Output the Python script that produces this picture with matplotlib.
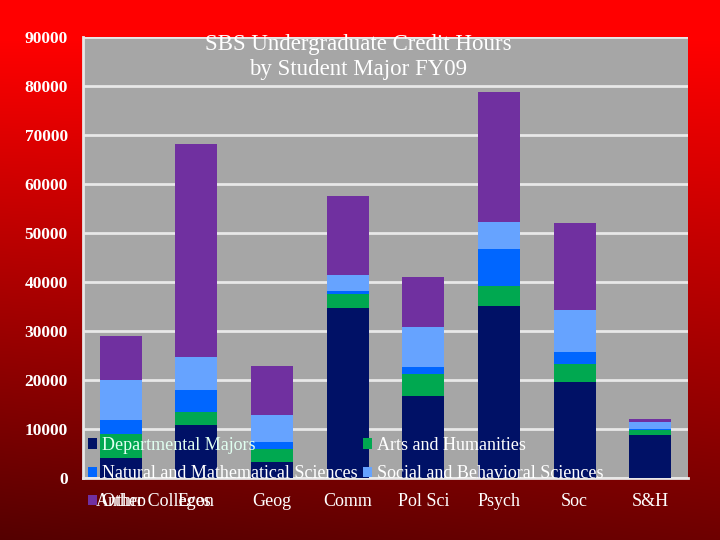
import numpy as np
import matplotlib
matplotlib.use("Agg")
import matplotlib.pyplot as plt
from matplotlib.patches import Patch

categories = ["Anthro", "Econ", "Geog", "Comm", "Pol Sci", "Psych", "Soc", "S&H"]
series_names = ["Departmental Majors", "Arts and Humanities",
                "Natural and Mathematical Sciences", "Social and Behavioral Sciences",
                "Other Colleges"]
dept_majors = [4100, 10900, 3200, 34600, 16700, 35200, 19650, 8850]
arts_hum = [4800, 2500, 2650, 2850, 4500, 3950, 3550, 850]
nat_math = [2900, 4600, 1550, 750, 1550, 7500, 2500, 300]
soc_beh = [8300, 6600, 5450, 3200, 8100, 5600, 8600, 1450]
other_col = [8900, 43500, 10000, 16100, 10200, 26600, 17750, 600]
y_ticks = [0, 10000, 20000, 30000, 40000, 50000, 60000, 70000, 80000, 90000]
title = "SBS Undergraduate Credit Hours\nby Student Major FY09"

colors = ["#001166", "#00A850", "#0066FF", "#66A3FF", "#7030A0"]

plt.rcParams['font.family'] = ['Liberation Serif', 'DejaVu Serif']

fig = plt.figure(figsize=(7.2, 5.4), dpi=100)

# background gradient
bg = fig.add_axes([0, 0, 1, 1], zorder=-10)
H, W = 540, 720
yy, xx = np.mgrid[0:H, 0:W]
t = np.clip((yy - 40) / 500.0, 0, 1)
r = 1.0 - 0.57 * t - 0.10 * t * (1 - xx / W)
img = np.zeros((H, W, 3))
img[..., 0] = np.clip(r, 0, 1)
bg.imshow(img, aspect='auto', extent=[0, 1, 0, 1], origin='upper')
bg.set_axis_off()

ax = fig.add_axes([83/720, 1 - 478/540, (688-83)/720, (478-37)/540])
ax.set_facecolor("#A6A6A6")

x = np.arange(len(categories))
data = [dept_majors, arts_hum, nat_math, soc_beh, other_col]
bottom = np.zeros(len(categories))
for vals, col in zip(data, colors):
    ax.bar(x, vals, width=0.555, bottom=bottom, color=col, zorder=3)
    bottom += np.array(vals)

ax.set_xlim(-0.5, len(categories) - 0.5)
ax.set_ylim(0, 90000)
ax.set_yticks(y_ticks)
ax.set_yticklabels([str(v) for v in y_ticks], color="white", fontsize=12.5, fontweight="bold")
ax.set_xticks(x)
ax.set_xticklabels(categories, color="white", fontsize=13)
ax.tick_params(axis='y', length=0, pad=11)
ax.tick_params(axis='x', length=0, pad=11)
ax.yaxis.grid(True, color="#E8E8E8", linewidth=2, zorder=0)
ax.set_axisbelow(True)
for s in ["top", "right"]:
    ax.spines[s].set_visible(False)
for s in ["left", "bottom"]:
    ax.spines[s].set_color("#E8E8E8")
    ax.spines[s].set_linewidth(2)

fig.text(358/720, 1 - 57/540, title, ha="center", va="center", color="white",
         fontsize=16.5, linespacing=1.3)

# legend, row-major order with 2 columns
order = [0, 2, 4, 1, 3]
handles = [Patch(facecolor=colors[i], edgecolor='none') for i in order]
labels = [series_names[i] for i in order]
leg = fig.legend(handles, labels, loc="upper left", bbox_to_anchor=(88/720, 1 - 437/540),
                 ncol=2, frameon=False, fontsize=13, borderpad=0, borderaxespad=0,
                 handlelength=0.5, handleheight=0.5, handletextpad=0.3,
                 columnspacing=0.25, labelspacing=0.62)
for txt in leg.get_texts():
    txt.set_color("white")
leg.get_texts()[0].set_color("#E0FFF0")

fig.savefig("out.png", dpi=100)
